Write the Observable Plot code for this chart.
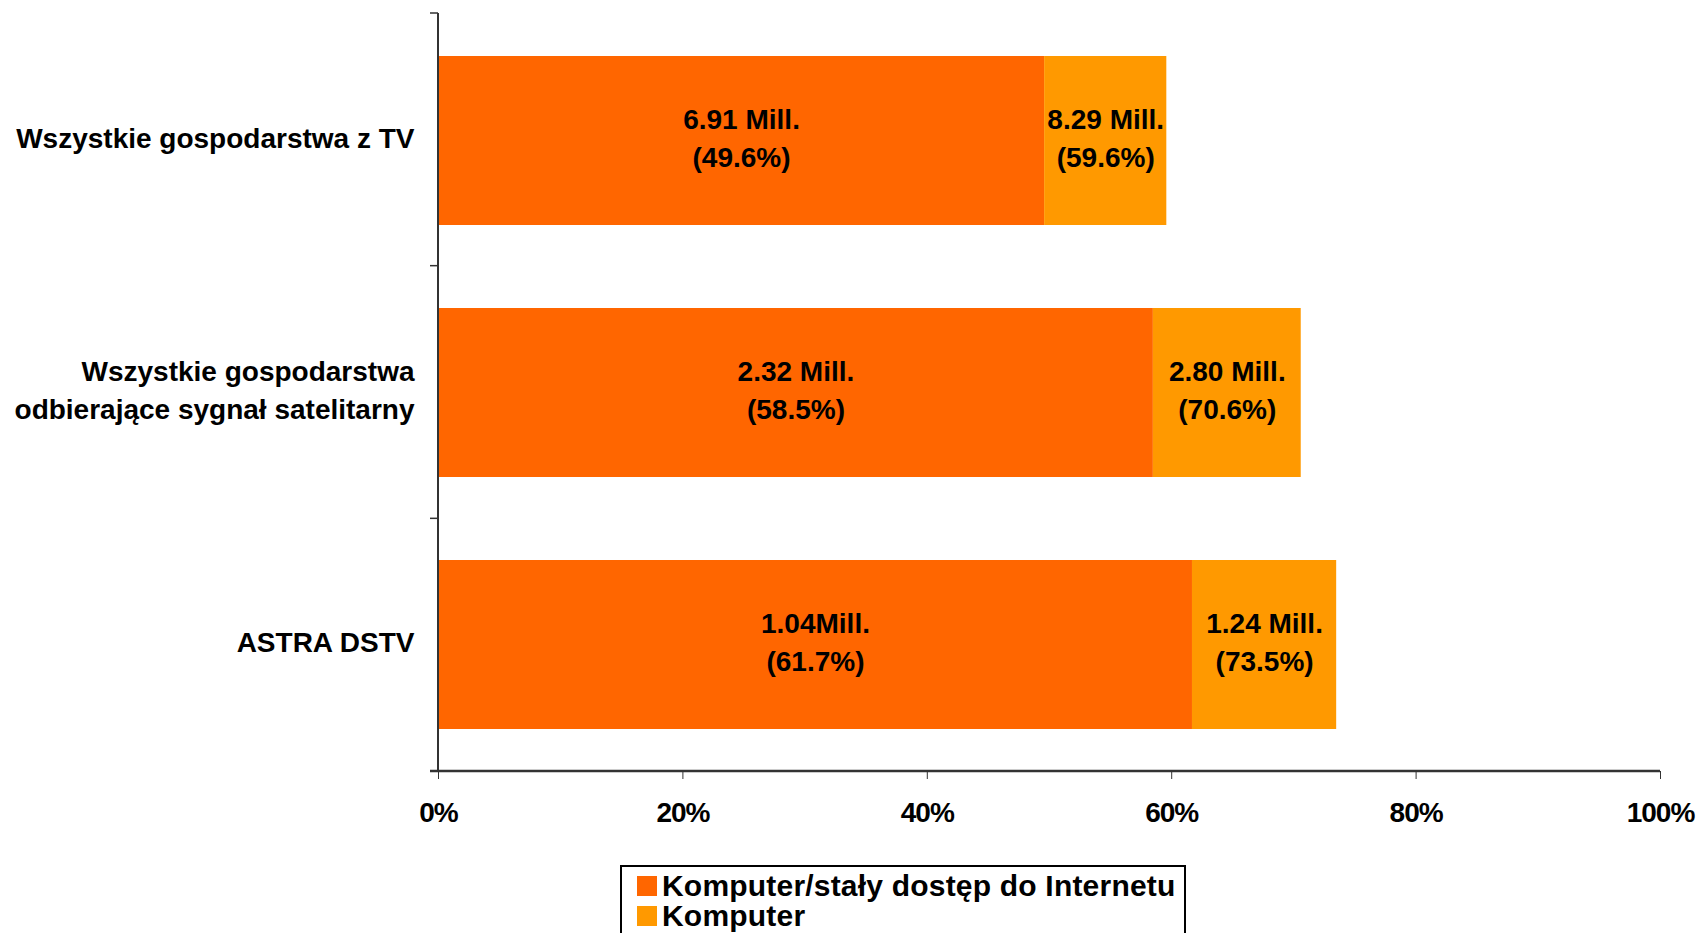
<!DOCTYPE html>
<html>
<head>
<meta charset="utf-8">
<script src="https://cdn.jsdelivr.net/npm/d3@7"></script>
<script src="https://cdn.jsdelivr.net/npm/@observablehq/plot@0.6"></script>
<style>
  html, body { margin: 0; padding: 0; background: #fff; }
  body { width: 1701px; height: 933px; position: relative; overflow: hidden; font-family: "Liberation Sans", Arial, sans-serif; }
  #chart svg { display: block; }
  #chart svg g[aria-label="x-axis tick label"] text { letter-spacing: -1px; }
  #legend {
    position: absolute; left: 620px; top: 865px; width: 566px; height: 70px;
    box-sizing: border-box; border: 2px solid #000; background: #fff;
    padding: 4px 0 0 15px; font-weight: bold; font-size: 30px; line-height: 30px; color: #000;
  }
  #legend .row { display: flex; align-items: center; height: 30px; white-space: nowrap; }
  #legend .row span { letter-spacing: 0.2px; }
  #legend .sw { width: 20px; height: 20px; margin-right: 5px; flex: none; }
</style>
</head>
<body>
<div id="chart"></div>
<div id="legend"></div>
<script>
// ---- data ----
const categories = [
  "Wszystkie gospodarstwa z TV",
  "Wszystkie gospodarstwa\nodbierające sygnał satelitarny",
  "ASTRA DSTV"
];
const internetPct = [49.6, 58.5, 61.7];
const computerPct = [59.6, 70.6, 73.5];
const internetMill = ["6.91 Mill.", "2.32 Mill.", "1.04Mill."];
const computerMill = ["8.29 Mill.", "2.80 Mill.", "1.24 Mill."];
const seriesNames = ["Komputer/stały dostęp do Internetu", "Komputer"];
const seriesColors = ["#FF6600", "#FF9900"];
const xTicks = [0, 20, 40, 60, 80, 100];

// ---- table built from arrays ----
const rows = [];
categories.forEach((c, i) => {
  rows.push({cat: c, series: seriesNames[0], x1: 0, x2: internetPct[i],
             label: internetMill[i] + "\n(" + internetPct[i].toFixed(1) + "%)"});
  rows.push({cat: c, series: seriesNames[1], x1: internetPct[i], x2: computerPct[i],
             label: computerMill[i] + "\n(" + computerPct[i].toFixed(1) + "%)"});
});

// custom mark: band-boundary ticks on the y axis + x axis baseline
function axisLines(index, scales, values, dims) {
  const x = scales.x;
  const g = d3.create("svg:g").attr("stroke", "#333").attr("fill", "none");
  const x0 = x(0);
  const top = dims.marginTop, bottom = dims.height - dims.marginBottom;
  const n = categories.length;
  const step = (bottom - top) / n;
  for (let i = 0; i <= n; i++) {
    const yy = top + i * step;
    g.append("line").attr("x1", x0 - 8).attr("x2", x0).attr("y1", yy).attr("y2", yy).attr("stroke-width", 1.5);
  }
  g.append("line").attr("x1", x0).attr("x2", x0).attr("y1", top).attr("y2", bottom).attr("stroke-width", 2);
  g.append("line").attr("x1", x0 - 8).attr("x2", x(100)).attr("y1", bottom).attr("y2", bottom).attr("stroke-width", 2.5);
  return g.node();
}

const plot = Plot.plot({
  width: 1701,
  height: 840,
  marginLeft: 438,
  marginRight: 41,
  marginTop: 13,
  marginBottom: 69,
  style: {fontFamily: "Liberation Sans, Arial, sans-serif", color: "#000", background: "#fff"},
  x: {domain: [0, 100], label: null},
  y: {domain: categories, paddingInner: 0.33, paddingOuter: 0.165, label: null},
  color: {domain: seriesNames, range: seriesColors},
  marks: [
    Plot.barX(rows, {x1: "x1", x2: "x2", y: "cat", fill: "series"}),
    Plot.text(rows, {
      x: d => (d.x1 + d.x2) / 2, y: "cat", text: "label", dy: -5,
      fontSize: 28, fontWeight: "bold", lineHeight: 1.33, fill: "#000"
    }),
    axisLines,
    Plot.axisX(xTicks, {
      tickSize: 8, tickPadding: 23, stroke: "#333",
      tickFormat: d => d + "%",
      fontSize: 28, fontWeight: "bold",
      fill: "#000"
    }),
    Plot.axisY({
      tickSize: 0, tickPadding: 24, textAnchor: "end", dy: -5,
      fontSize: 28, fontWeight: "bold", lineHeight: 1.36, fill: "#000"
    })
  ]
});
document.getElementById("chart").appendChild(plot);

// legend (vertical, boxed)
const legend = d3.select("#legend");
seriesNames.forEach((s, i) => {
  const row = legend.append("div").attr("class", "row");
  row.append("div").attr("class", "sw").style("background", seriesColors[i]);
  row.append("span").text(s);
});
</script>
</body>
</html>
